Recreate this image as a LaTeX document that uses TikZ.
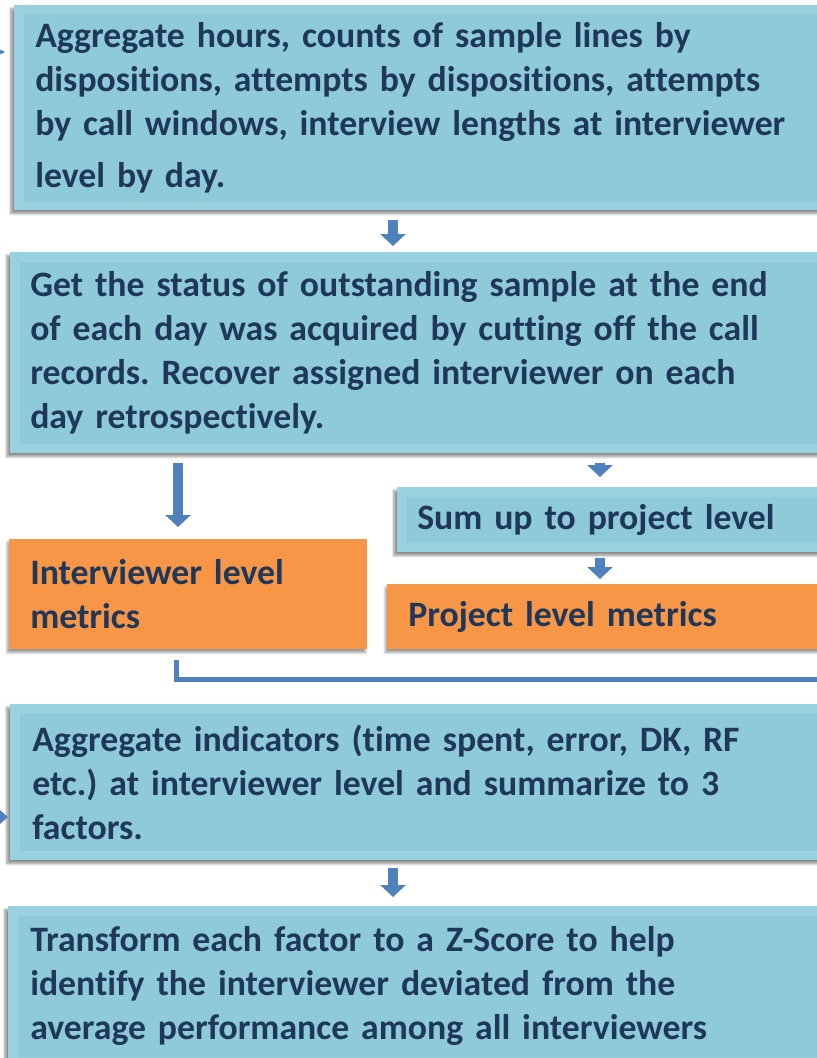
\documentclass[tikz,border=0pt]{standalone}
\usepackage{fontspec}
\setmainfont{Carlito}[Ligatures=NoCommon]
\usetikzlibrary{arrows.meta,shadows.blur}

\definecolor{boxblue}{RGB}{143,202,219}
\definecolor{bevlight}{RGB}{153,209,225}
\definecolor{boxorange}{RGB}{247,150,70}
\definecolor{arrowblue}{RGB}{79,129,189}
\definecolor{navytext}{RGB}{31,56,90}

\tikzset{
  boxtext/.style={anchor=north west, align=left, text=navytext, inner ysep=0pt,
    font=\frenchspacing\bfseries\fontsize{26.8pt}{33pt}\selectfont},
  stepbox/.style={boxtext, fill=boxblue,
    blur shadow={shadow xshift=-2.5pt, shadow yshift=-2.5pt, shadow blur steps=6, shadow opacity=45},
    path picture={
      \fill[bevlight] (path picture bounding box.south west) rectangle (path picture bounding box.north east);
      \fill[boxblue] ([shift={(7pt,7pt)}]path picture bounding box.south west)
                     rectangle ([shift={(-7pt,-7pt)}]path picture bounding box.north east);
    }},
  metricbox/.style={boxtext, fill=boxorange,
    blur shadow={shadow xshift=-1.5pt, shadow yshift=-2.5pt, shadow blur steps=5, shadow opacity=40}},
  blockarrow/.style={draw=arrowblue, line width=7.5pt, -{Triangle[width=18.75pt,length=9pt]}},
  link/.style={draw=arrowblue, line width=3.75pt}
}

\begin{document}
\begin{tikzpicture}[x=0.75pt,y=-0.75pt]
\useasboundingbox (0,0) rectangle (817,1058);
\clip (0,0) rectangle (817,1058);

% process boxes
\node[stepbox, inner xsep=15.75pt, text width=588pt, minimum height=153.75pt] (box1) at (14,5)
  {Aggregate hours, counts of sample lines by\\
   dispositions, attempts by dispositions, attempts\\
   by call windows, interview lengths at interviewer\\[6pt]
   level by day.};

\node[stepbox, inner xsep=15pt, text width=592.5pt, minimum height=150.75pt] (box2) at (10,252)
  {Get the status of outstanding sample at the end\\
   of each day was acquired by cutting off the call\\
   records. Recover assigned interviewer on each\\
   day retrospectively.};

\node[metricbox, inner xsep=15.75pt, text width=237pt, minimum height=82.5pt] (orange1) at (9,539)
  {Interviewer level\\ metrics};

\node[stepbox, inner xsep=15pt, text width=302.25pt, minimum height=48.75pt] (sum) at (397,487)
  {Sum up to project level};

\node[metricbox, inner xsep=15.75pt, text width=308.25pt, minimum height=48.75pt] (orange2) at (387,584)
  {Project level metrics};

\node[stepbox, inner xsep=16.5pt, text width=589.5pt, minimum height=117pt] (box3) at (10,704)
  {Aggregate indicators (time spent, error, DK, RF\\
   etc.) at interviewer level and summarize to 3\\
   factors.};

\node[stepbox, inner xsep=16.5pt, text width=591pt, minimum height=120pt] (box4) at (8,906)
  {Transform each factor to a Z-Score to help\\
   identify the interviewer deviated from the\\
   average performance among all interviewers};

% arrow columns
\coordinate (colA) at (393,0);
\coordinate (colL) at (178,0);
\coordinate (colR) at (600,0);
\coordinate (turn) at (176,679);
\coordinate (exitR) at (840,679);
\coordinate (entryL) at (-30,817);
\coordinate (entryT) at (-30,52);

% block arrows
\draw[blockarrow, shorten <=6.75pt, shorten >=4.5pt] (box1.south -| colA) -- (box2.north -| colA);
\draw[blockarrow, shorten <=6.75pt, shorten >=9pt] (box2.south -| colL) -- (orange1.north -| colL);
\draw[blockarrow, shorten <=6.75pt, shorten >=7.5pt] (box2.south -| colR) -- (sum.north -| colR);
\draw[blockarrow, shorten <=3.75pt, shorten >=3.75pt] (sum.south -| colR) -- (orange2.north -| colR);
\draw[blockarrow, shorten <=5.25pt, shorten >=6.75pt] (box3.south -| colA) -- (box4.north -| colA);

% return connector
\draw[link, shorten <=7.5pt] (orange1.south -| turn) -- (turn) -- (exitR);
\draw[link, -{Triangle[width=10pt,length=6pt]}, shorten >=1.5pt] (entryL) -- (box3.west |- entryL);
\draw[arrowblue, line width=0.8pt, -{Stealth[length=4pt,width=4pt]}, shorten >=6.75pt] (entryT) -- (box1.west |- entryT);
\end{tikzpicture}
\end{document}
